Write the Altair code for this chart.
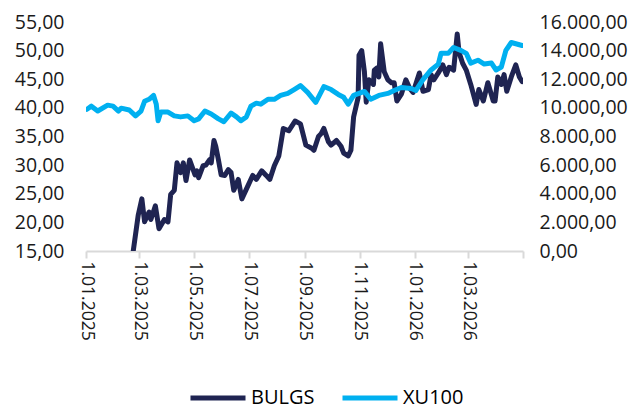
import altair as alt
import pandas as pd

bulgs_dates = [
    "2025-02-22", "2025-02-28", "2025-03-04", "2025-03-07", "2025-03-12", "2025-03-14", "2025-03-19",
    "2025-03-23", "2025-03-29", "2025-04-02", "2025-04-05", "2025-04-09", "2025-04-12", "2025-04-16",
    "2025-04-19", "2025-04-22", "2025-04-26", "2025-05-02", "2025-05-04", "2025-05-06", "2025-05-11",
    "2025-05-14", "2025-05-18", "2025-05-20", "2025-05-23", "2025-05-25", "2025-05-28", "2025-05-31",
    "2025-06-04", "2025-06-08", "2025-06-11", "2025-06-14", "2025-06-19", "2025-06-23", "2025-06-28",
    "2025-07-05", "2025-07-09", "2025-07-15", "2025-07-20", "2025-07-24", "2025-07-29", "2025-08-03",
    "2025-08-08", "2025-08-14", "2025-08-21", "2025-08-27", "2025-09-02", "2025-09-08", "2025-09-11",
    "2025-09-16", "2025-09-19", "2025-09-22", "2025-09-27", "2025-09-30", "2025-10-06", "2025-10-11",
    "2025-10-14", "2025-10-19", "2025-10-22", "2025-10-25", "2025-10-30", "2025-10-31", "2025-11-03",
    "2025-11-06", "2025-11-08", "2025-11-11", "2025-11-16", "2025-11-17", "2025-11-20", "2025-11-22",
    "2025-11-24", "2025-11-28", "2025-12-02", "2025-12-06", "2025-12-09", "2025-12-12", "2025-12-17",
    "2025-12-22", "2025-12-26", "2025-12-30", "2026-01-06", "2026-01-10", "2026-01-16", "2026-01-19",
    "2026-01-22", "2026-01-27", "2026-02-01", "2026-02-05", "2026-02-08", "2026-02-13", "2026-02-17",
    "2026-02-19", "2026-02-23", "2026-02-27", "2026-03-04", "2026-03-10", "2026-03-13", "2026-03-18",
    "2026-03-23", "2026-03-29", "2026-03-31", "2026-04-03", "2026-04-07", "2026-04-10", "2026-04-13",
    "2026-04-18", "2026-04-23", "2026-04-27", "2026-04-30",
]
bulgs_values = [
    14.5, 21.3, 24.1, 20.1, 21.8, 20.5, 22.9,
    18.9, 20.5, 20.1, 24.9, 25.6, 30.4, 28.7,
    30.4, 27.3, 30.9, 28.3, 29.0, 27.8, 29.9,
    30.0, 30.9, 30.4, 34.3, 33.3, 30.9, 28.3,
    28.2, 29.2, 28.7, 25.6, 27.5, 24.1, 25.8,
    28.2, 27.5, 29.0, 28.2, 27.5, 29.9, 31.6,
    36.4, 36.0, 37.7, 37.2, 33.5, 33.0, 32.6,
    35.0, 35.5, 36.4, 34.1, 33.5, 34.3, 33.3,
    32.1, 31.6, 32.6, 38.4, 41.8, 49.2, 50.0,
    46.3, 41.0, 44.9, 44.1, 46.6, 47.0, 45.4,
    51.2, 46.3, 44.9, 44.4, 44.4, 41.2, 42.4,
    44.9, 43.5, 42.7, 46.1, 42.9, 43.2, 45.8,
    44.9, 46.1, 47.5, 45.8, 47.1, 46.6, 52.9,
    49.7, 47.8, 46.6, 44.1, 40.6, 43.2, 41.2,
    44.4, 41.2, 41.2, 45.4, 44.1, 45.8, 42.9,
    45.4, 47.5, 45.4, 44.6,
]

xu100_dates = [
    "2025-01-02", "2025-01-07", "2025-01-14", "2025-01-25", "2025-01-31", "2025-02-06", "2025-02-09",
    "2025-02-18", "2025-02-25", "2025-03-03", "2025-03-07", "2025-03-12", "2025-03-17", "2025-03-20",
    "2025-03-22", "2025-03-25", "2025-04-02", "2025-04-09", "2025-04-16", "2025-04-24", "2025-05-01",
    "2025-05-06", "2025-05-13", "2025-05-20", "2025-05-28", "2025-06-03", "2025-06-11", "2025-06-17",
    "2025-06-22", "2025-06-28", "2025-07-03", "2025-07-09", "2025-07-14", "2025-07-22", "2025-07-29",
    "2025-08-05", "2025-08-13", "2025-08-20", "2025-08-27", "2025-09-04", "2025-09-13", "2025-09-22",
    "2025-09-30", "2025-10-08", "2025-10-14", "2025-10-19", "2025-10-25", "2025-11-06", "2025-11-13",
    "2025-11-22", "2025-12-02", "2025-12-09", "2025-12-17", "2025-12-28", "2026-01-02", "2026-01-10",
    "2026-01-19", "2026-01-27", "2026-01-30", "2026-02-07", "2026-02-13", "2026-02-21", "2026-02-27",
    "2026-03-04", "2026-03-12", "2026-03-19", "2026-03-27", "2026-04-01", "2026-04-07", "2026-04-12",
    "2026-04-18", "2026-04-26", "2026-04-30",
]
xu100_values = [
    9900, 10120, 9780, 10190, 10120, 9780, 9980,
    9850, 9440, 9780, 10460, 10600, 10870, 10260,
    9100, 9710, 9710, 9440, 9370, 9440, 9100,
    9230, 9780, 9570, 9230, 9030, 9640, 9370,
    9100, 9370, 10120, 10330, 10260, 10600, 10600,
    10870, 11010, 11280, 11560, 11080, 10390, 11490,
    11280, 10940, 10740, 10260, 10870, 11150, 10600,
    10870, 11010, 11210, 11420, 11350, 11210, 11970,
    12650, 13060, 13810, 13810, 14220, 14020, 13810,
    13130, 13330, 13060, 13130, 12650, 12860, 14020,
    14570, 14430, 14360,
]

series_names = ["BULGS", "XU100"]
series_colors = ["#1f2452", "#00b0f0"]
left_ticks = [15, 20, 25, 30, 35, 40, 45, 50, 55]
right_ticks = [0, 2000, 4000, 6000, 8000, 10000, 12000, 14000, 16000]
x_tick_months = [(2025, 1), (2025, 3), (2025, 5), (2025, 7), (2025, 9), (2025, 11),
                 (2026, 1), (2026, 3), (2026, 5)]

df_b = pd.DataFrame({"date": bulgs_dates, "value": bulgs_values, "series": "BULGS"})
df_x = pd.DataFrame({"date": xu100_dates, "value": xu100_values, "series": "XU100"})

FONT = "Open Sans"
TXT = "#1a1a1a"

x_values = [alt.DateTime(year=y, month=m, date=1, utc=True) for (y, m) in x_tick_months]

x_enc = alt.X(
    "date:T",
    scale=alt.Scale(type="utc",
                    domain=[alt.DateTime(year=2025, month=1, date=1, utc=True),
                            alt.DateTime(year=2026, month=5, date=1, utc=True)]),
    axis=alt.Axis(
        values=x_values,
        labelExpr="(utcyear(datum.value) == 2026 && utcmonth(datum.value) == 4) ? '' : utcFormat(datum.value, '%-d.%m.%Y')",
        labelAngle=90, labelAlign="left", labelBaseline="middle",
        labelFont=FONT, labelFontSize=17.5, labelColor=TXT, labelPadding=3,
        domainColor="#d9d9d9", domainWidth=2, tickColor="#d9d9d9", tickWidth=2, tickSize=7,
        grid=False, title=None, labelOverlap=False, labelFlush=False,
    ),
    title=None,
)

# legend symbol: a long horizontal stroke drawn from a small symbol box
color_enc = alt.Color(
    "series:N",
    scale=alt.Scale(domain=series_names, range=series_colors),
    legend=alt.Legend(
        orient="none", direction="horizontal", legendX=122, legendY=366,
        symbolType="M-3.93,0H3.93", symbolSize=196, symbolStrokeWidth=5,
        labelFont=FONT, labelFontSize=20, labelColor="#000000", labelOffset=23,
        columnPadding=17, title=None,
    ),
)

left = alt.Chart(df_b).mark_line(strokeWidth=5, strokeJoin="round", strokeCap="round", clip=True).encode(
    x=x_enc,
    y=alt.Y("value:Q",
            scale=alt.Scale(domain=[15, 55], nice=False, zero=False),
            axis=alt.Axis(values=left_ticks, orient="left",
                          labelExpr="replace(format(datum.value, '.2f'), '.', ',')",
                          labelFont=FONT, labelFontSize=19.5, labelColor=TXT, labelPadding=22,
                          domain=False, ticks=False, grid=False, title=None)),
    color=color_enc,
)

right = alt.Chart(df_x).mark_line(strokeWidth=5, strokeJoin="round", strokeCap="round", clip=True).encode(
    x=x_enc,
    y=alt.Y("value:Q",
            scale=alt.Scale(domain=[0, 16000], nice=False, zero=False),
            axis=alt.Axis(values=right_ticks, orient="right",
                          labelExpr="replace(replace(replace(format(datum.value, ',.2f'), regexp(',', 'g'), '#'), '.', ','), regexp('#', 'g'), '.')",
                          labelFont=FONT, labelFontSize=19.5, labelColor=TXT, labelPadding=16,
                          domain=False, ticks=False, grid=False, title=None)),
    color=color_enc,
)

chart = alt.layer(left, right).resolve_scale(y="independent").properties(
    width=437, height=229,
    autosize=alt.AutoSizeParams(type="none"),
    padding={"left": 78, "top": 14, "right": 112, "bottom": 158},
).configure_view(stroke=None)

chart.save("out.html", embed_options={"renderer": "svg", "actions": False})
